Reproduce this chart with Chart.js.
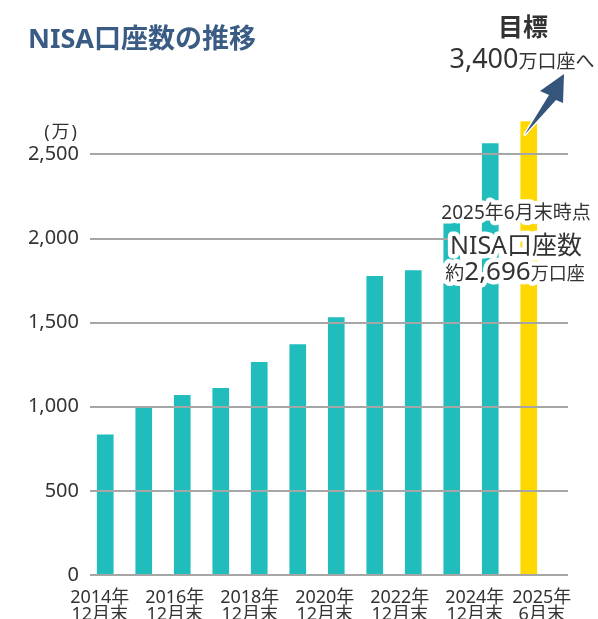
<!DOCTYPE html>
<html>
<head>
<meta charset="utf-8">
<script src="https://cdn.jsdelivr.net/npm/chart.js@4"></script>
<style>
  html, body { margin: 0; padding: 0; background: #fff; }
</style>
</head>
<body>
<canvas id="myChart" width="598" height="619"></canvas>
<script>
// Data (万口座)
const years = ['2014年', '2015年', '2016年', '2017年', '2018年', '2019年', '2020年', '2021年', '2022年', '2023年', '2024年', '2025年'];
const periods = ['12月末', '12月末', '12月末', '12月末', '12月末', '12月末', '12月末', '12月末', '12月末', '12月末', '12月末', '6月末'];
const accounts = [833, 993, 1068, 1110, 1265, 1370, 1530, 1776, 1810, 2136, 2565, 2696];
const yTicks = [0, 500, 1000, 1500, 2000, 2500];
const target = 3400;

const FONT = "'Noto Sans', 'Noto Sans CJK JP', sans-serif";
const TEAL = '#21bdbd';
const YELLOW = '#ffd800';
const TEXT = '#333333';

// draws a row of text pieces centred on x, with an optional white halo behind
function haloRow(ctx, parts, cx, baseline, halo) {
    let total = 0;
    parts.forEach(p => {
        ctx.font = `${p.weight || 'normal'} ${p.size}px ${FONT}`;
        p.w = ctx.measureText(p.text).width;
        total += p.w;
    });
    ctx.textAlign = 'left';
    ctx.textBaseline = 'alphabetic';
    if (halo) {
        let x = cx - total / 2;
        parts.forEach(p => {
            ctx.font = `${p.weight || 'normal'} ${p.size}px ${FONT}`;
            ctx.strokeStyle = '#ffffff';
            ctx.lineWidth = halo;
            ctx.lineJoin = 'round';
            ctx.strokeText(p.text, x, baseline);
            x += p.w;
        });
    }
    let x = cx - total / 2;
    parts.forEach(p => {
        ctx.font = `${p.weight || 'normal'} ${p.size}px ${FONT}`;
        ctx.fillStyle = TEXT;
        ctx.fillText(p.text, x, baseline);
        x += p.w;
    });
}

const overlay = {
    id: 'overlay',
    afterDatasetsDraw(chart) {
        const { ctx, scales: { x, y } } = chart;
        const last = accounts.length - 1;
        ctx.save();

        // grid lines sit on top of the bars and run past the last one
        ctx.strokeStyle = '#a6a6a6';
        ctx.lineWidth = 2;
        yTicks.forEach(v => {
            const py = Math.round(y.getPixelForValue(v));
            ctx.beginPath();
            ctx.moveTo(90, py);
            ctx.lineTo(568, py);
            ctx.stroke();
        });

        // category labels: every other year plus the latest half-year
        ctx.font = `18px ${FONT}`;
        ctx.fillStyle = TEXT;
        ctx.textAlign = 'center';
        ctx.textBaseline = 'alphabetic';
        years.forEach((yr, i) => {
            if (i % 2 !== 0 && i !== last) return;
            const px = x.getPixelForValue(i) + (i === last ? 13 : -5.5 - i);
            ctx.fillText(yr, px, 603);
            ctx.fillText(periods[i], px, 620);
        });

        // arrow from the latest bar up to the target note
        const bar = chart.getDatasetMeta(0).data[last];
        const tx = bar.x - 4, ty = bar.y + 13;
        ctx.beginPath();
        ctx.moveTo(tx, ty);
        ctx.lineTo(556, 100);
        ctx.lineTo(563, 103);
        ctx.lineTo(564, 74);
        ctx.lineTo(540, 91);
        ctx.lineTo(549, 95);
        ctx.closePath();
        ctx.strokeStyle = '#ffffff';
        ctx.lineWidth = 3;
        ctx.lineJoin = 'round';
        ctx.stroke();
        ctx.fillStyle = '#35557b';
        ctx.fill();

        // note on the latest value
        const latest = accounts[last].toLocaleString('en-US');
        haloRow(ctx, [{ text: years[last] + periods[last] + '時点', size: 19 }], 516, 219, 9);
        haloRow(ctx, [{ text: 'NISA口座数', size: 25 }], 516, 254, 9);
        haloRow(ctx, [{ text: '約', size: 19 }, { text: latest, size: 26 }, { text: '万口座', size: 18 }], 515, 280, 9);

        // target note
        haloRow(ctx, [{ text: '目標', size: 25, weight: 'bold' }], 523, 36, 0);
        haloRow(ctx, [{ text: target.toLocaleString('en-US'), size: 27 }, { text: '万口座へ', size: 19 }], 522, 68, 0);

        // title and unit
        ctx.font = `bold 27px ${FONT}`;
        ctx.fillStyle = '#3a5c84';
        ctx.textAlign = 'left';
        ctx.textBaseline = 'middle';
        ctx.fillText('NISA口座数の推移', 28, 40);

        ctx.font = `18px ${FONT}`;
        ctx.fillStyle = TEXT;
        ctx.textAlign = 'right';
        ctx.letterSpacing = '2px';
        ctx.fillText('(万)', 79, 133);
        ctx.restore();
    }
};

const data = {
    labels: years.map((yr, i) => [yr, periods[i]]),
    datasets: [{
        data: accounts,
        backgroundColor: accounts.map((v, i) => i === accounts.length - 1 ? YELLOW : TEAL),
        borderWidth: 0,
        barThickness: 16
    }]
};

const config = {
    type: 'bar',
    data,
    options: {
        responsive: false,
        animation: false,
        devicePixelRatio: 1,
        layout: {
            padding: { top: 104, right: 50, bottom: 0, left: 0 }
        },
        plugins: {
            legend: { display: false },
            tooltip: { enabled: false }
        },
        scales: {
            y: {
                min: 0,
                max: 2800,
                border: { display: false },
                grid: { display: false, drawTicks: false, tickLength: 0 },
                afterBuildTicks: scale => { scale.ticks = yTicks.map(v => ({ value: v })); },
                afterFit: scale => { scale.width = 86; },
                ticks: {
                    padding: 7,
                    color: TEXT,
                    font: { size: 20, family: FONT },
                    callback: v => v.toLocaleString('en-US')
                }
            },
            x: {
                border: { display: false },
                grid: { display: false, drawTicks: false, tickLength: 0 },
                afterFit: scale => { scale.height = 44; },
                // labels are placed by the overlay plugin so they can sit off-centre like the original
                ticks: { display: false }
            }
        }
    },
    plugins: [overlay]
};

window.myChart = new Chart(document.getElementById('myChart'), config);
</script>
</body>
</html>
